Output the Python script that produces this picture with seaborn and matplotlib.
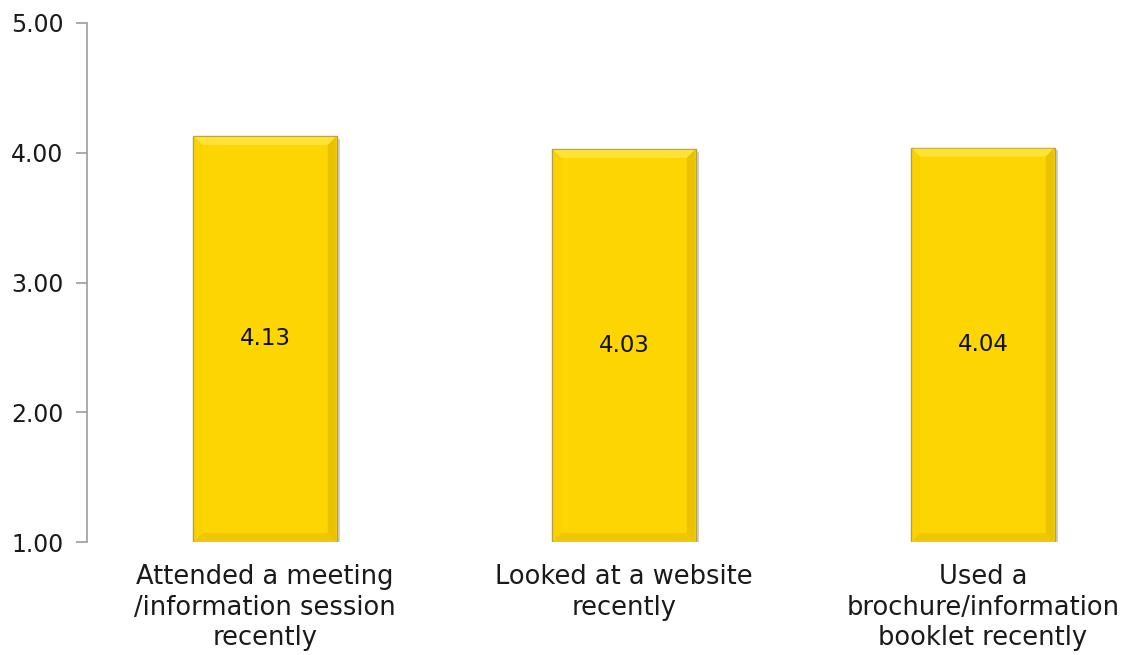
import matplotlib
matplotlib.use("Agg")
import matplotlib.pyplot as plt
import matplotlib.patheffects as pe
from matplotlib.patches import Polygon
from matplotlib.transforms import IdentityTransform
import seaborn as sns
import pandas as pd

categories = [
    "Attended a meeting\n/information session\nrecently",
    "Looked at a website\nrecently",
    "Used a\nbrochure/information\nbooklet recently",
]
scores = [4.13, 4.03, 4.04]
y_ticks = [1.00, 2.00, 3.00, 4.00, 5.00]

df = pd.DataFrame({"category": categories, "score": scores})

sns.set_theme(style="white")
plt.rcParams["font.family"] = ["DejaVu Sans"]

fig = plt.figure(figsize=(11.24, 6.55), dpi=100)
ax = fig.add_axes([87 / 1124, 1 - 542 / 655, 1 - 87 / 1124, (542 - 23) / 655])

sns.barplot(data=df, x="category", y="score", ax=ax, color="#FDD500",
            width=0.40, saturation=1)

ax.set_ylim(1.0, 5.0)
ax.set_xlim(-0.496, 2.393)

# bars start at the axis floor of 1.00
for patch, v in zip(ax.patches, scores):
    patch.set_y(1.0)
    patch.set_height(v - 1.0)
    patch.set_edgecolor("#B8A040")
    patch.set_linewidth(1.0)
    patch.set_path_effects([
        pe.SimplePatchShadow(offset=(2, -2), shadow_rgbFace="#8a8a8a", alpha=0.4),
        pe.Normal(),
    ])

# soft bevelled edges drawn in display space over each bar
fig.canvas.draw()
bev = 8
for patch in list(ax.patches):
    bb = patch.get_window_extent()
    x0, y0, x1, y1 = bb.x0 + 1, bb.y0 + 1, bb.x1 - 1, bb.y1 - 1
    faces = [
        ([(x0, y1), (x1, y1), (x1 - bev, y1 - bev), (x0 + bev, y1 - bev)], "#FFEC55", 0.65),
        ([(x1, y1), (x1, y0), (x1 - bev, y0 + bev), (x1 - bev, y1 - bev)], "#D9B200", 0.5),
        ([(x0, y0), (x1, y0), (x1 - bev, y0 + bev), (x0 + bev, y0 + bev)], "#DDB600", 0.45),
        ([(x0, y0), (x0, y1), (x0 + bev, y1 - bev), (x0 + bev, y0 + bev)], "#F5CE00", 0.3),
    ]
    for pts, col, a in faces:
        fig.add_artist(Polygon(pts, closed=True, transform=IdentityTransform(),
                               facecolor=col, edgecolor="none", alpha=a, zorder=3))

for i, v in enumerate(scores):
    ax.text(i, (1.0 + v) / 2, f"{v:.2f}", ha="center", va="center",
            fontsize=16.5, color="#111111", zorder=5)

ax.set_yticks(y_ticks)
ax.set_yticklabels([f"{t:.2f}" for t in y_ticks])
ax.set_xlabel("")
ax.set_ylabel("")

for side in ["top", "right", "bottom"]:
    ax.spines[side].set_visible(False)
ax.spines["left"].set_color("#9c9c9c")
ax.spines["left"].set_linewidth(1.2)

ax.tick_params(axis="y", which="major", left=True, length=8, width=1.2,
               color="#9c9c9c", labelsize=17, labelcolor="#1a1a1a", pad=9)
ax.tick_params(axis="x", bottom=False, labelsize=18.5, labelcolor="#1a1a1a", pad=10)
for lbl in ax.get_xticklabels():
    lbl.set_linespacing(1.22)

fig.savefig("out.png", dpi=100)
